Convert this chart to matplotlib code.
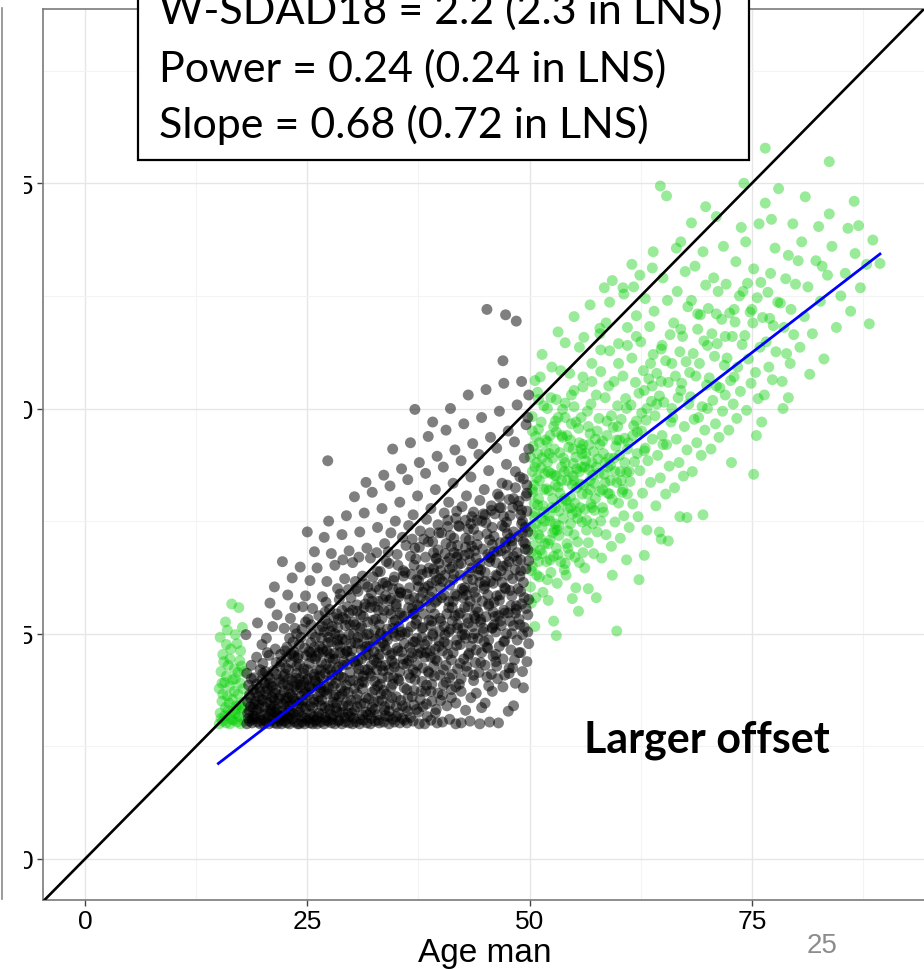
import numpy as np
import matplotlib
matplotlib.use('Agg')
from matplotlib import pyplot as plt
from matplotlib.patches import Rectangle
from matplotlib.lines import Line2D

plt.rcParams['font.family'] = ['Liberation Sans', 'DejaVu Sans']

# man age 18-50 (black), spread part of the cloud
black_pts = [
    (18.2, 15.0), (18.5, 15.3), (18.8, 15.1), (19.1, 15.6), (19.4, 15.2), (19.7, 15.0), (18.3, 16.2), (18.9, 16.8),
    (19.5, 17.1), (18.6, 17.9), (19.2, 18.4), (19.8, 16.0), (18.4, 19.3), (19.0, 20.1), (19.6, 19.0), (18.7, 21.5),
    (19.3, 22.4), (19.9, 23.8), (18.1, 24.9), (19.4, 26.2), (18.5, 18.2), (19.7, 21.0), (18.2, 20.6), (19.1, 15.8),
    (19.9, 17.7),
    (20.1, 15.0), (20.4, 15.2), (20.7, 15.0), (21.0, 15.4), (21.3, 15.1), (21.6, 15.0), (21.9, 15.3), (20.2, 16.1),
    (20.8, 16.6), (21.4, 16.3), (20.5, 17.4), (21.1, 17.9), (21.7, 17.2), (20.3, 18.6), (20.9, 19.2), (21.5, 18.8),
    (20.6, 20.3), (21.2, 20.9), (21.8, 19.9), (20.0, 21.7), (20.7, 22.6), (21.4, 23.3), (21.9, 21.4), (20.4, 24.5),
    (21.1, 25.8), (21.6, 27.1), (20.8, 28.4), (21.3, 30.2), (20.2, 19.5), (21.0, 18.0), (21.7, 16.0), (20.5, 22.9),
    (22.1, 15.0), (22.4, 15.3), (22.7, 15.1), (23.0, 15.0), (23.3, 15.5), (23.6, 15.2), (23.9, 15.0), (22.2, 16.4),
    (22.8, 16.9), (23.4, 16.2), (22.5, 17.8), (23.1, 18.3), (23.7, 17.5), (22.3, 19.4), (22.9, 20.0), (23.5, 19.1),
    (22.6, 21.2), (23.2, 21.8), (23.8, 20.6), (22.0, 22.7), (22.7, 23.5), (23.4, 24.1), (23.9, 22.3), (22.4, 25.6),
    (23.1, 26.7), (23.6, 27.9), (22.8, 29.3), (23.3, 31.2), (22.2, 33.0), (23.8, 25.0), (23.0, 17.0), (22.5, 20.5),
    (23.5, 23.0), (22.9, 18.9),
    (24.1, 15.0), (24.4, 15.2), (24.7, 15.0), (25.0, 15.4), (25.3, 15.1), (25.6, 15.0), (25.9, 15.3), (24.2, 16.3),
    (24.8, 16.7), (25.4, 16.1), (24.5, 17.6), (25.1, 18.2), (25.7, 17.4), (24.3, 19.3), (24.9, 19.9), (25.5, 19.0),
    (24.6, 21.1), (25.2, 21.7), (25.8, 20.5), (24.0, 22.6), (24.7, 23.4), (25.4, 24.0), (25.9, 22.2), (24.4, 25.5),
    (25.1, 26.6), (25.6, 27.8), (24.8, 29.2), (25.3, 30.9), (24.2, 32.4), (25.8, 34.1), (25.0, 36.3), (24.5, 28.0),
    (25.5, 25.0), (24.9, 18.5), (25.2, 23.0), (24.1, 20.0),
    (26.1, 15.0), (26.5, 15.2), (26.9, 15.0), (27.3, 15.3), (27.7, 15.1), (26.3, 16.2), (27.0, 16.8), (27.6, 16.0),
    (26.6, 17.7), (27.2, 18.3), (27.9, 17.4), (26.2, 19.2), (26.8, 19.9), (27.4, 19.0), (26.5, 21.0), (27.1, 21.6),
    (27.8, 20.4), (26.0, 22.5), (26.7, 23.3), (27.3, 24.0), (27.9, 22.1), (26.4, 25.4), (27.0, 26.5), (27.5, 27.7),
    (26.7, 29.1), (27.2, 30.8), (26.1, 32.3), (27.7, 33.9), (26.9, 35.7), (27.4, 37.5), (27.3, 44.2), (26.3, 27.0),
    (27.1, 28.5), (26.6, 24.5), (27.8, 25.8), (26.2, 18.0), (27.5, 22.8),
    (28.1, 15.0), (28.5, 15.3), (28.9, 15.0), (29.3, 15.2), (29.7, 15.1), (28.3, 16.4), (29.0, 17.0), (29.6, 16.2),
    (28.6, 18.0), (29.2, 18.6), (29.9, 17.6), (28.2, 19.5), (28.8, 20.2), (29.4, 19.3), (28.5, 21.3), (29.1, 21.9),
    (29.8, 20.7), (28.0, 22.8), (28.7, 23.6), (29.3, 24.3), (29.9, 22.4), (28.4, 25.7), (29.0, 26.8), (29.5, 28.0),
    (28.7, 29.4), (29.2, 31.1), (28.1, 32.6), (29.7, 34.2), (28.9, 36.0), (29.4, 38.1), (28.3, 27.2), (29.6, 29.9),
    (28.6, 24.8), (29.8, 26.0), (28.2, 18.2), (29.5, 23.0), (29.0, 33.2), (28.4, 30.0),
    (30.1, 15.0), (30.5, 15.2), (30.9, 15.0), (31.3, 15.4), (31.7, 15.1), (30.3, 16.5), (31.0, 17.2), (31.6, 16.3),
    (30.6, 18.3), (31.2, 18.9), (31.9, 17.8), (30.2, 19.8), (30.8, 20.5), (31.4, 19.6), (30.5, 21.6), (31.1, 22.2),
    (31.8, 21.0), (30.0, 23.1), (30.7, 23.9), (31.3, 24.6), (31.9, 22.7), (30.4, 26.0), (31.0, 27.1), (31.5, 28.3),
    (30.7, 29.7), (31.2, 31.4), (30.1, 32.9), (31.7, 34.5), (30.9, 36.3), (31.4, 38.4), (30.3, 40.2), (31.6, 41.8),
    (30.6, 27.5), (31.8, 30.2), (30.2, 25.0), (31.1, 25.8), (30.8, 33.5), (31.5, 23.5), (30.4, 30.8),
    (32.1, 15.0), (32.6, 15.3), (33.1, 15.1), (33.6, 15.2), (32.3, 16.8), (33.0, 17.5), (33.7, 16.5), (32.6, 18.8),
    (33.2, 19.4), (33.9, 18.3), (32.2, 20.3), (32.8, 21.0), (33.4, 20.1), (32.5, 22.1), (33.1, 22.7), (33.8, 21.5),
    (32.0, 23.6), (32.7, 24.4), (33.3, 25.1), (33.9, 23.2), (32.4, 26.5), (33.0, 27.6), (33.5, 28.8), (32.7, 30.2),
    (33.2, 31.9), (32.1, 33.4), (33.7, 35.0), (32.9, 36.8), (33.4, 38.9), (32.3, 40.7), (33.6, 42.6), (32.6, 28.0),
    (33.8, 30.7), (32.2, 29.5), (33.1, 26.0), (32.8, 34.0), (33.5, 24.0), (32.4, 31.3), (33.9, 33.0),
    (34.2, 15.0), (34.8, 15.2), (35.4, 15.1), (35.9, 15.4), (34.3, 17.2), (35.0, 18.0), (35.7, 17.0), (34.6, 19.4),
    (35.2, 20.0), (35.9, 19.0), (34.2, 21.0), (34.8, 21.7), (35.4, 20.8), (34.5, 22.8), (35.1, 23.4), (35.8, 22.2),
    (34.0, 24.3), (34.7, 25.1), (35.3, 25.8), (35.9, 23.9), (34.4, 27.2), (35.0, 28.3), (35.5, 29.5), (34.7, 30.9),
    (35.2, 32.6), (34.1, 34.1), (35.7, 35.7), (34.9, 37.5), (35.4, 39.6), (34.3, 41.4), (35.6, 43.3), (34.6, 45.5),
    (34.2, 28.7), (35.8, 31.4), (34.9, 26.5), (35.1, 33.8), (35.6, 27.0), (34.4, 36.2), (35.3, 30.0),
    (36.2, 15.1), (36.9, 15.3), (37.6, 15.0), (36.3, 17.9), (37.0, 18.7), (37.7, 17.7), (36.6, 20.1), (37.2, 20.7),
    (37.9, 19.7), (36.2, 21.7), (36.8, 22.4), (37.4, 21.5), (36.5, 23.5), (37.1, 24.1), (37.8, 22.9), (36.0, 25.0),
    (36.7, 25.8), (37.3, 26.5), (37.9, 24.6), (36.4, 27.9), (37.0, 29.0), (37.5, 30.2), (36.7, 31.6), (37.2, 33.3),
    (36.1, 34.8), (37.7, 36.4), (36.9, 38.2), (37.4, 40.3), (36.3, 42.1), (37.6, 44.0), (36.6, 46.2), (37.1, 49.9),
    (36.2, 29.4), (37.8, 32.1), (36.9, 27.2), (37.1, 34.5), (37.6, 28.0), (36.4, 37.0), (37.3, 31.0), (36.8, 35.5),
    (38.2, 15.0), (38.9, 15.4), (39.6, 15.1), (38.3, 18.6), (39.0, 19.4), (39.7, 18.4), (38.6, 20.8), (39.2, 21.4),
    (39.9, 20.4), (38.2, 22.4), (38.8, 23.1), (39.4, 22.2), (38.5, 24.2), (39.1, 24.8), (39.8, 23.6), (38.0, 25.7),
    (38.7, 26.5), (39.3, 27.2), (39.9, 25.3), (38.4, 28.6), (39.0, 29.7), (39.5, 30.9), (38.7, 32.3), (39.2, 34.0),
    (38.1, 35.5), (39.7, 37.1), (38.9, 38.9), (39.4, 41.0), (38.3, 42.8), (39.6, 44.7), (38.6, 46.9), (39.1, 48.5),
    (38.2, 30.1), (39.8, 32.8), (38.9, 27.9), (39.1, 35.2), (39.6, 28.7), (38.4, 37.7), (39.3, 31.7), (38.8, 36.2),
    (39.5, 33.3),
    (40.2, 15.2), (41.0, 15.5), (41.7, 15.0), (40.3, 19.3), (41.0, 20.1), (41.7, 19.1), (40.6, 21.5), (41.2, 22.1),
    (41.9, 21.1), (40.2, 23.1), (40.8, 23.8), (41.4, 22.9), (40.5, 24.9), (41.1, 25.5), (41.8, 24.3), (40.0, 26.4),
    (40.7, 27.2), (41.3, 27.9), (41.9, 26.0), (40.4, 29.3), (41.0, 30.4), (41.5, 31.6), (40.7, 33.0), (41.2, 34.7),
    (40.1, 36.2), (41.7, 37.8), (40.9, 39.6), (41.4, 41.7), (40.3, 43.5), (41.6, 45.4), (40.6, 47.6), (41.1, 50.0),
    (40.2, 30.8), (41.8, 33.5), (40.9, 28.6), (41.1, 35.9), (41.6, 29.4), (40.4, 38.4), (41.3, 32.4), (40.8, 36.9),
    (41.5, 34.0), (40.0, 32.0),
    (42.3, 15.1), (43.3, 15.3), (42.3, 20.0), (43.0, 20.8), (43.7, 19.8), (42.6, 22.2), (43.2, 22.8), (43.9, 21.8),
    (42.2, 23.8), (42.8, 24.5), (43.4, 23.6), (42.5, 25.6), (43.1, 26.2), (43.8, 25.0), (42.0, 27.1), (42.7, 27.9),
    (43.3, 28.6), (43.9, 26.7), (42.4, 30.0), (43.0, 31.1), (43.5, 32.3), (42.7, 33.7), (43.2, 35.4), (42.1, 36.9),
    (43.7, 38.5), (42.9, 40.3), (43.4, 42.4), (42.3, 44.2), (43.6, 46.1), (42.6, 48.3), (43.1, 51.5), (42.2, 31.5),
    (43.8, 34.2), (42.9, 29.3), (43.1, 36.6), (43.6, 30.1), (42.4, 39.1), (43.3, 33.1), (42.8, 37.6), (43.5, 34.7),
    (42.0, 32.7),
    (44.4, 15.0), (45.5, 15.2), (44.3, 20.7), (45.0, 21.5), (45.7, 20.5), (44.6, 22.9), (45.2, 23.5), (45.9, 22.5),
    (44.2, 24.5), (44.8, 25.2), (45.4, 24.3), (44.5, 26.3), (45.1, 26.9), (45.8, 25.7), (44.0, 27.8), (44.7, 28.6),
    (45.3, 29.3), (45.9, 27.4), (44.4, 30.7), (45.0, 31.8), (45.5, 33.0), (44.7, 34.4), (45.2, 36.1), (44.1, 37.6),
    (45.7, 39.2), (44.9, 41.0), (45.4, 43.1), (44.3, 44.9), (45.6, 46.8), (44.6, 49.0), (45.1, 52.1), (45.2, 61.0),
    (44.2, 32.2), (45.8, 34.9), (44.9, 30.0), (45.1, 37.3), (45.6, 30.8), (44.4, 39.8), (45.3, 33.8), (44.8, 38.3),
    (45.5, 35.4), (44.0, 33.4), (45.0, 17.3),
    (46.5, 15.1), (47.6, 16.4), (46.3, 21.4), (47.0, 22.2), (47.7, 21.2), (46.6, 23.6), (47.2, 24.2), (47.9, 23.2),
    (46.2, 25.2), (46.8, 25.9), (47.4, 25.0), (46.5, 27.0), (47.1, 27.6), (47.8, 26.4), (46.0, 28.5), (46.7, 29.3),
    (47.3, 30.0), (47.9, 28.1), (46.4, 31.4), (47.0, 32.5), (47.5, 33.7), (46.7, 35.1), (47.2, 36.8), (46.1, 38.3),
    (47.7, 39.9), (46.9, 41.7), (47.4, 43.8), (46.3, 45.6), (47.6, 47.5), (46.6, 49.7), (47.1, 52.8), (47.3, 60.4),
    (46.2, 32.9), (47.8, 35.6), (46.9, 30.7), (47.1, 38.0), (47.6, 31.5), (46.4, 40.5), (47.3, 34.5), (46.8, 39.0),
    (47.5, 36.1), (46.0, 34.1), (47.0, 55.3),
    (48.2, 17.0), (49.3, 19.0), (48.3, 22.1), (49.0, 22.9), (49.7, 21.9), (48.6, 24.3), (49.2, 24.9), (49.9, 23.9),
    (48.2, 25.9), (48.8, 26.6), (49.4, 25.7), (48.5, 27.7), (49.1, 28.3), (49.8, 27.1), (48.0, 29.2), (48.7, 30.0),
    (49.3, 30.7), (49.9, 28.8), (48.4, 32.1), (49.0, 33.2), (49.5, 34.4), (48.7, 35.8), (49.2, 37.5), (48.1, 39.0),
    (49.7, 40.6), (48.9, 42.4), (49.4, 44.5), (48.3, 46.3), (49.6, 48.2), (48.6, 50.4), (49.1, 53.0), (48.5, 59.7),
    (48.2, 33.6), (49.8, 36.3), (48.9, 31.4), (49.1, 38.7), (49.6, 32.2), (48.4, 41.2), (49.3, 35.2), (48.8, 39.7),
    (49.5, 36.8), (48.0, 34.8), (49.9, 45.5), (49.8, 49.0), (49.9, 51.5),
]

# man age 18-50 (black), the dense core next to the fitted line
black_core_pts = [
    (18.4, 15.6), (18.9, 15.9), (19.3, 16.5), (19.8, 15.4), (20.2, 16.9), (20.6, 15.8), (21.0, 16.2), (18.6, 16.9),
    (19.5, 18.0), (20.0, 17.6), (20.5, 18.9), (20.9, 17.0), (18.9, 18.8), (19.9, 19.9), (20.3, 20.8), (20.8, 20.0),
    (19.2, 17.5), (18.3, 17.4),
    (21.2, 15.7), (21.6, 16.6), (22.0, 15.5), (22.3, 17.2), (22.6, 15.9), (23.0, 16.4), (23.3, 18.0), (23.7, 16.0),
    (24.0, 17.3), (24.4, 15.8), (24.7, 18.4), (21.4, 18.4), (21.9, 19.6), (22.4, 18.6), (22.9, 21.0), (23.3, 19.8),
    (23.8, 21.4), (24.2, 19.0), (24.6, 20.6), (24.9, 22.6), (21.5, 20.5), (22.1, 21.9), (22.7, 22.4), (23.5, 22.5),
    (24.1, 23.8), (21.8, 17.8), (22.8, 17.9), (23.9, 19.4), (24.5, 16.9), (21.1, 19.1), (22.5, 16.1), (23.4, 17.1),
    (25.2, 15.6), (25.6, 16.8), (26.0, 15.4), (26.3, 17.5), (26.7, 16.1), (27.0, 15.7), (27.4, 17.0), (27.8, 15.5),
    (28.2, 16.8), (28.6, 15.4), (29.0, 16.3), (29.4, 17.4), (29.8, 15.8), (25.3, 18.9), (25.8, 20.2), (26.2, 19.5),
    (26.6, 21.8), (27.0, 20.6), (27.5, 22.3), (27.9, 19.2), (28.3, 21.0), (28.7, 22.9), (29.1, 20.1), (29.5, 21.6),
    (29.9, 23.9), (25.4, 22.9), (25.9, 24.6), (26.4, 23.6), (26.9, 25.2), (27.3, 26.1), (27.7, 24.1), (28.1, 25.0),
    (28.5, 26.6), (28.9, 24.4), (29.3, 25.9), (29.7, 27.3), (25.7, 17.7), (26.5, 18.5), (27.2, 18.8), (28.0, 18.0),
    (28.8, 19.0), (29.6, 18.5), (26.1, 21.0), (27.6, 21.0), (29.2, 22.8), (25.1, 20.0), (26.8, 23.0), (28.4, 23.8),
    (30.2, 15.6), (30.6, 16.9), (31.0, 15.5), (31.4, 17.3), (31.8, 16.0), (32.2, 15.6), (32.6, 16.6), (33.0, 15.4),
    (33.4, 17.6), (33.8, 15.9), (34.2, 16.4), (34.6, 15.5), (35.0, 16.9), (30.3, 18.9), (30.8, 21.1), (31.2, 19.7),
    (31.6, 22.6), (32.0, 20.6), (32.5, 23.0), (32.9, 19.2), (33.3, 21.4), (33.7, 23.7), (34.1, 20.2), (34.5, 22.0),
    (34.9, 24.7), (30.4, 24.0), (30.9, 25.6), (31.3, 26.9), (31.7, 24.9), (32.1, 27.9), (32.6, 25.4), (33.0, 28.6),
    (33.4, 26.7), (33.8, 29.2), (34.2, 27.6), (34.6, 30.0), (35.0, 28.0), (30.1, 27.6), (30.7, 22.0), (31.5, 21.0),
    (32.3, 18.5), (32.8, 21.8), (33.6, 18.7), (34.4, 19.0), (34.8, 21.3), (31.1, 23.2), (32.4, 24.2), (33.2, 24.9),
    (34.0, 25.5), (34.7, 26.3), (31.9, 28.9), (33.5, 30.6), (30.5, 30.0),
    (35.2, 16.2), (35.7, 15.6), (36.1, 16.8), (36.6, 15.7), (37.0, 17.1), (37.5, 16.3), (38.0, 16.9), (38.5, 15.8),
    (39.0, 17.5), (39.5, 16.6), (35.3, 19.8), (35.8, 21.6), (36.2, 18.8), (36.7, 22.9), (37.1, 19.9), (37.6, 23.4),
    (38.0, 21.2), (38.4, 19.3), (38.9, 22.4), (39.3, 20.3), (39.8, 24.2), (35.4, 24.8), (35.9, 26.9), (36.3, 25.2),
    (36.8, 27.8), (37.2, 26.1), (37.7, 29.0), (38.1, 27.2), (38.6, 30.3), (39.0, 26.4), (39.4, 28.5), (39.9, 31.1),
    (35.5, 29.6), (36.0, 31.8), (36.5, 30.1), (37.0, 32.6), (37.4, 28.2), (37.9, 31.6), (38.3, 33.5), (38.8, 29.1),
    (39.2, 32.2), (39.7, 34.3), (36.4, 20.5), (37.3, 24.5), (38.2, 23.8), (39.1, 25.0), (35.6, 23.0), (36.9, 21.0),
    (38.7, 20.6), (39.6, 22.0),
    (40.2, 18.2), (40.7, 17.0), (41.2, 18.8), (41.7, 17.3), (42.3, 18.6), (42.8, 16.5), (43.4, 17.9), (44.0, 18.4),
    (44.6, 16.8), (40.3, 21.0), (40.8, 22.7), (41.3, 20.5), (41.8, 23.7), (42.2, 21.7), (42.7, 24.9), (43.1, 22.6),
    (43.6, 25.8), (44.0, 23.2), (44.5, 26.6), (44.9, 24.1), (40.4, 25.8), (40.9, 27.9), (41.3, 26.4), (41.8, 29.2),
    (42.2, 27.3), (42.7, 30.1), (43.1, 28.0), (43.6, 31.0), (44.0, 29.0), (44.5, 32.1), (44.9, 30.3), (40.5, 31.5),
    (41.0, 33.4), (41.4, 31.0), (41.9, 34.8), (42.3, 32.8), (42.8, 35.6), (43.2, 33.9), (43.7, 36.6), (44.1, 34.9),
    (44.6, 37.5), (40.1, 29.0), (41.6, 27.0), (42.5, 29.0), (43.8, 27.0), (44.3, 31.5), (40.6, 35.0), (42.0, 37.0),
    (43.5, 38.0),
    (45.2, 20.2), (45.8, 18.6), (46.4, 20.0), (47.0, 19.1), (47.7, 20.6), (48.4, 19.5), (49.2, 20.8), (45.3, 23.4),
    (45.8, 25.6), (46.2, 22.7), (46.7, 26.4), (47.1, 24.1), (47.6, 27.3), (48.0, 25.0), (48.5, 28.1), (48.9, 26.0),
    (49.4, 29.0), (49.8, 25.2), (45.4, 28.3), (45.9, 30.6), (46.3, 29.2), (46.8, 32.0), (47.2, 30.1), (47.7, 33.0),
    (48.1, 31.1), (48.6, 34.0), (49.0, 32.0), (49.5, 35.0), (49.9, 33.1), (45.5, 33.5), (46.0, 35.8), (46.4, 34.1),
    (46.9, 37.0), (47.3, 35.2), (47.8, 38.1), (48.2, 36.3), (48.7, 39.2), (49.1, 37.2), (49.6, 40.3), (45.7, 38.7),
    (46.6, 40.2), (47.5, 41.5), (48.4, 43.0), (49.3, 42.2), (46.1, 26.9), (48.8, 22.9), (49.7, 38.6),
    (18.5, 16.4), (19.0, 17.2), (19.6, 16.7), (20.1, 15.5), (20.4, 18.2), (20.9, 16.4), (21.3, 17.6), (21.8, 15.8),
    (18.8, 15.5), (19.3, 19.4), (20.7, 19.5), (21.5, 21.8), (21.2, 16.9), (19.7, 18.6), (18.7, 20.0), (20.0, 20.6),
    (22.2, 15.9), (22.6, 17.5), (23.1, 16.0), (23.5, 17.8), (24.0, 16.3), (24.3, 18.1), (24.8, 15.6), (25.3, 17.0),
    (25.7, 15.8), (22.3, 20.3), (22.8, 19.3), (23.2, 22.8), (23.7, 20.1), (24.1, 21.6), (24.6, 19.6), (25.0, 21.0),
    (25.5, 22.4), (25.9, 19.8), (22.5, 23.1), (23.0, 24.5), (23.6, 25.6), (24.3, 24.6), (24.8, 26.3), (25.4, 26.0),
    (25.8, 23.5), (22.9, 15.6), (24.5, 17.4), (25.2, 19.2), (23.8, 18.8), (22.0, 18.2),
    (26.2, 15.8), (26.6, 17.0), (27.1, 15.4), (27.5, 16.6), (27.9, 15.9), (28.3, 17.3), (28.7, 16.2), (29.2, 15.7),
    (29.6, 17.0), (30.0, 16.2), (30.5, 17.7), (26.4, 20.3), (26.9, 18.6), (27.3, 21.1), (27.7, 19.8), (28.1, 22.2),
    (28.5, 20.4), (29.0, 21.5), (29.4, 23.1), (29.8, 19.8), (30.3, 21.9), (30.7, 24.6), (26.3, 22.9), (26.7, 25.8),
    (27.2, 23.1), (27.6, 25.3), (28.0, 26.8), (28.4, 24.3), (28.9, 27.6), (29.3, 26.6), (29.7, 24.9), (30.2, 26.3),
    (30.6, 28.2), (27.0, 27.4), (28.6, 28.8), (29.9, 29.0), (26.5, 19.0), (28.9, 18.3), (30.8, 19.4), (27.4, 24.6),
    (31.2, 16.0), (31.6, 17.9), (32.1, 16.3), (32.5, 17.4), (32.9, 16.0), (33.3, 18.3), (33.7, 16.9), (34.1, 15.8),
    (34.5, 17.9), (35.0, 15.8), (35.5, 17.6), (31.3, 20.3), (31.7, 23.6), (32.2, 21.5), (32.6, 19.7), (33.0, 22.3),
    (33.5, 20.9), (33.9, 24.7), (34.3, 22.6), (34.7, 20.1), (35.2, 23.1), (35.6, 25.2), (31.4, 27.9), (31.8, 26.3),
    (32.3, 28.6), (32.7, 26.6), (33.1, 29.9), (33.6, 27.6), (34.0, 30.3), (34.4, 28.9), (34.8, 31.3), (35.3, 29.1),
    (35.8, 32.0), (31.5, 30.5), (32.9, 31.9), (34.2, 32.8), (35.4, 27.3), (33.2, 23.5), (34.6, 25.6), (31.9, 25.0),
    (36.3, 16.4), (36.8, 18.0), (37.3, 16.6), (37.8, 18.6), (38.4, 17.2), (38.9, 18.6), (39.4, 16.2), (40.0, 17.6),
    (40.6, 19.6), (41.2, 17.9), (36.4, 22.0), (36.9, 24.1), (37.4, 22.7), (37.9, 25.6), (38.4, 22.9), (38.9, 25.9),
    (39.4, 23.3), (39.9, 26.7), (40.4, 24.1), (40.9, 25.2), (41.4, 28.6), (41.9, 25.6), (36.5, 28.8), (37.0, 27.2),
    (37.5, 30.9), (38.0, 29.6), (38.5, 31.8), (39.0, 30.6), (39.5, 33.4), (40.0, 30.1), (40.5, 33.9), (41.0, 32.2),
    (41.5, 35.6), (42.0, 33.8), (36.6, 33.6), (37.6, 34.6), (38.6, 35.2), (39.8, 36.2), (40.8, 37.6), (41.8, 38.6),
    (42.1, 19.4), (42.9, 21.4), (43.7, 20.4), (44.5, 21.8), (45.4, 19.2), (46.2, 21.9), (47.2, 20.4), (48.1, 21.2),
    (42.4, 24.9), (43.0, 26.7), (43.6, 24.5), (44.2, 27.4), (44.8, 25.6), (45.4, 28.1), (46.0, 26.0), (46.6, 28.7),
    (47.2, 27.3), (47.8, 29.8), (48.4, 27.3), (49.0, 29.7), (49.6, 27.8), (42.6, 29.8), (43.2, 31.8), (43.8, 29.6),
    (44.4, 32.8), (45.0, 30.8), (45.6, 33.4), (46.2, 31.5), (46.8, 34.2), (47.4, 32.6), (48.0, 35.3), (48.6, 33.1),
    (49.2, 36.2), (49.8, 34.3), (42.8, 34.6), (43.4, 37.2), (44.2, 35.9), (45.0, 38.2), (45.8, 36.8), (46.6, 39.0),
    (47.4, 37.4), (48.2, 40.0), (49.0, 38.2), (49.7, 41.5),
]

# man age < 18 (green, left block)
green_young_pts = [
    (15.1, 15.0), (15.5, 15.3), (15.9, 15.1), (16.3, 15.0), (16.7, 15.4), (17.1, 15.2), (17.5, 15.0), (17.9, 15.3),
    (15.2, 16.2), (15.8, 16.8), (16.4, 16.1), (17.0, 16.6), (17.6, 16.3), (15.4, 17.5), (16.0, 18.1), (16.6, 17.7),
    (17.2, 18.3), (17.8, 17.4), (15.1, 18.9), (15.7, 19.6), (16.3, 19.2), (16.9, 20.0), (17.5, 19.5), (15.3, 20.8),
    (16.1, 21.5), (16.8, 21.1), (17.4, 22.0), (15.5, 22.7), (16.4, 23.3), (17.1, 23.9), (15.2, 24.6), (16.0, 25.4),
    (16.9, 24.9), (17.7, 25.7), (15.8, 26.3), (17.3, 27.9), (16.5, 28.3), (17.9, 20.8), (17.0, 17.0), (15.6, 21.9),
    (15.3, 15.6), (15.7, 15.9), (16.1, 16.5), (16.5, 15.5), (16.9, 16.1), (17.3, 15.8), (17.7, 16.8), (15.5, 18.3),
    (16.2, 17.3), (16.8, 18.6), (17.4, 17.1), (17.8, 18.9), (15.9, 20.3), (16.6, 19.9), (17.2, 20.7), (15.4, 19.5),
    (17.6, 21.4), (16.3, 22.2), (15.9, 23.8), (17.5, 23.1),
]

# man age > 50 (green, right cloud)
green_old_pts = [
    (50.1, 30.2), (50.3, 32.5), (50.5, 34.8), (50.2, 36.9), (50.6, 38.4), (50.4, 40.7), (50.8, 42.3), (50.1, 44.6),
    (50.7, 46.9), (50.3, 49.1), (50.9, 51.8), (50.6, 25.8), (51.1, 31.3), (51.4, 33.9), (51.2, 35.6), (51.7, 37.5),
    (51.5, 39.2), (51.9, 41.1), (51.3, 43.4), (51.8, 45.2), (51.0, 47.7), (51.6, 50.3), (51.2, 53.5), (50.2, 28.4),
    (51.5, 29.6), (50.5, 41.5), (51.0, 36.0), (50.8, 33.7), (51.7, 42.8), (50.4, 45.8),
    (52.1, 28.7), (52.4, 31.8), (52.7, 33.6), (52.3, 35.4), (52.9, 37.2), (52.5, 39.0), (52.2, 40.9), (52.8, 42.6),
    (52.6, 44.5), (52.0, 46.3), (52.9, 48.6), (52.4, 51.2), (53.1, 30.6), (53.5, 33.0), (53.3, 35.9), (53.8, 37.8),
    (53.6, 39.7), (53.2, 41.3), (53.9, 43.0), (53.4, 45.1), (53.0, 47.4), (53.7, 49.9), (53.5, 54.2), (52.7, 26.4),
    (53.9, 32.1), (52.2, 38.1), (53.4, 40.6), (52.8, 36.5),
    (54.1, 31.5), (54.5, 33.8), (54.3, 36.4), (54.8, 38.3), (54.6, 40.2), (54.2, 42.0), (54.9, 43.9), (54.4, 45.7),
    (54.7, 48.3), (54.0, 50.6), (54.5, 53.9), (55.2, 30.1), (55.6, 32.9), (55.4, 35.2), (55.9, 37.4), (55.1, 39.5),
    (55.7, 41.6), (55.3, 43.3), (55.8, 45.5), (55.5, 47.8), (55.0, 50.2), (55.6, 56.8), (54.8, 28.9), (55.9, 40.5),
    (54.3, 38.9), (55.2, 44.6),
    (56.2, 32.3), (56.6, 35.1), (56.4, 37.6), (56.9, 39.4), (56.1, 41.5), (56.7, 43.2), (56.3, 45.0), (56.8, 47.2),
    (56.5, 49.7), (56.0, 52.4), (57.2, 33.9), (57.6, 36.3), (57.3, 38.7), (57.9, 40.8), (57.1, 42.6), (57.7, 44.4),
    (57.4, 46.6), (57.8, 48.9), (57.5, 51.5), (57.0, 55.0), (57.9, 58.3), (56.6, 30.0), (57.3, 41.7),
    (58.1, 33.4), (58.6, 36.0), (58.3, 38.5), (58.8, 40.6), (58.4, 42.7), (58.9, 44.5), (58.2, 46.4), (58.7, 48.6),
    (58.5, 51.2), (58.0, 54.1), (58.6, 59.5), (59.2, 34.7), (59.6, 37.4), (59.3, 39.9), (59.8, 41.8), (59.1, 43.7),
    (59.7, 45.8), (59.4, 47.9), (59.9, 50.3), (59.5, 53.0), (59.0, 56.4), (59.8, 25.3), (59.3, 31.5), (59.0, 61.8),
    (60.2, 35.6), (60.6, 38.1), (60.4, 40.7), (60.9, 42.9), (60.1, 44.8), (60.7, 46.7), (60.3, 48.8), (60.8, 51.1),
    (60.5, 53.6), (60.0, 57.2), (60.6, 62.7), (61.2, 36.8), (61.6, 39.4), (61.3, 41.9), (61.8, 44.1), (61.1, 46.2),
    (61.7, 48.1), (61.4, 50.4), (61.9, 52.9), (61.5, 55.6), (61.0, 59.0), (61.7, 63.5), (60.9, 33.2),
    (62.2, 38.0), (62.7, 40.6), (62.4, 43.1), (62.9, 45.3), (62.1, 47.4), (62.6, 49.5), (62.3, 51.7), (62.8, 54.2),
    (62.5, 57.4), (62.0, 60.3), (63.2, 36.5), (63.6, 41.8), (63.3, 44.2), (63.8, 46.6), (63.1, 48.7), (63.7, 50.8),
    (63.4, 53.3), (63.9, 56.0), (63.5, 59.1), (63.0, 62.2), (63.8, 65.6), (62.9, 33.7),
    (64.2, 39.2), (64.7, 42.3), (64.4, 44.8), (64.9, 47.0), (64.1, 49.2), (64.6, 51.4), (64.3, 53.9), (64.8, 56.6),
    (64.7, 74.7), (64.0, 60.8), (65.3, 40.5), (65.7, 43.6), (65.4, 46.0), (65.9, 48.5), (65.1, 50.7), (65.6, 52.9),
    (65.3, 55.3), (65.8, 58.2), (65.5, 62.0), (65.0, 64.5), (65.4, 73.6), (64.6, 36.3),
    (66.3, 41.2), (66.8, 44.0), (66.5, 46.6), (66.1, 49.0), (66.7, 51.2), (66.4, 53.6), (66.9, 56.3), (66.2, 59.5),
    (66.6, 63.0), (67.3, 42.5), (67.7, 45.4), (67.4, 48.0), (67.9, 50.5), (67.1, 52.8), (67.6, 55.2), (67.2, 58.0),
    (67.8, 61.3), (67.5, 65.2), (66.9, 38.0), (67.0, 68.5),
    (68.3, 43.0), (68.8, 46.2), (68.5, 48.8), (68.1, 51.3), (68.7, 53.6), (68.4, 56.1), (68.9, 58.8), (68.2, 62.0),
    (68.6, 65.8), (69.3, 44.8), (69.7, 47.6), (69.4, 50.2), (69.9, 52.6), (69.1, 55.0), (69.6, 57.5), (69.2, 60.4),
    (69.8, 63.7), (69.5, 38.2), (69.5, 67.4),
    (70.4, 45.5), (70.9, 48.3), (70.6, 50.9), (70.2, 53.4), (70.8, 55.8), (70.5, 58.3), (70.1, 61.1), (70.7, 64.5),
    (71.3, 46.8), (71.7, 49.7), (71.4, 52.3), (71.9, 54.8), (71.1, 57.2), (71.6, 59.9), (71.2, 63.0), (71.8, 68.0),
    (72.4, 47.6), (72.9, 50.5), (72.6, 53.1), (72.2, 55.6), (72.8, 58.0), (72.5, 60.6), (72.1, 63.8), (73.3, 48.9),
    (73.7, 51.9), (73.4, 54.6), (73.9, 57.1), (73.1, 59.6), (73.6, 62.5), (73.2, 66.3), (74.1, 75.0), (72.7, 44.0),
    (74.4, 49.8), (74.9, 52.8), (74.6, 55.5), (74.2, 58.1), (74.8, 60.7), (74.5, 63.9), (75.2, 42.7), (75.7, 51.1),
    (75.4, 54.0), (75.9, 56.8), (75.1, 59.5), (75.6, 62.3), (75.2, 65.5), (74.3, 68.5), (75.8, 70.5), (75.5, 47.0),
    (76.4, 51.5), (76.9, 54.6), (76.6, 57.4), (76.2, 60.1), (76.8, 62.9), (76.5, 78.9), (77.3, 53.2), (77.7, 56.3),
    (77.4, 59.2), (77.9, 61.8), (77.1, 65.0), (77.6, 67.8), (76.1, 48.5), (77.2, 71.0),
    (78.4, 53.0), (78.9, 56.1), (78.6, 59.0), (78.2, 61.7), (78.8, 64.4), (79.3, 55.0), (79.7, 58.2), (79.4, 61.0),
    (79.9, 63.8), (79.1, 67.0), (78.5, 50.0), (79.6, 70.5),
    (80.4, 56.8), (80.9, 60.2), (81.3, 63.5), (81.8, 58.3), (82.2, 66.4), (82.7, 61.9), (83.1, 55.5), (83.5, 64.8),
    (83.7, 71.6), (83.7, 77.4), (80.6, 68.5), (81.5, 53.8), (84.0, 68.0), (82.5, 70.2),
    (84.5, 59.0), (85.0, 62.5), (85.5, 65.0), (86.1, 60.8), (86.6, 67.2), (87.2, 63.4), (87.9, 66.0), (88.6, 68.7),
    (85.8, 70.0), (87.0, 70.3), (88.2, 59.4), (89.4, 66.1),
    (50.6, 53.1), (51.4, 56.0), (52.5, 54.6), (53.2, 58.5), (54.0, 57.3), (55.0, 60.2), (56.1, 57.9), (57.9, 58.9),
    (56.8, 61.5), (58.4, 63.4), (59.3, 64.2), (60.5, 63.4), (61.5, 66.0), (62.4, 64.8), (63.9, 67.4), (66.5, 67.8),
    (68.2, 70.6), (69.8, 72.4), (71.0, 71.3), (73.8, 70.1), (76.5, 72.8), (78.0, 74.4), (80.2, 66.4), (82.9, 65.8),
    (81.0, 73.5), (86.5, 73.0), (79.1, 51.2), (67.7, 37.9), (64.8, 35.5), (65.6, 35.3), (62.3, 31.0), (57.5, 29.0),
    (55.5, 27.5), (53.0, 24.8), (58.2, 41.0), (60.2, 43.0), (61.0, 45.5), (62.0, 48.6), (63.0, 45.6), (56.0, 46.0),
    (57.0, 44.0), (55.0, 42.0), (54.0, 44.0), (53.0, 42.5), (52.0, 44.0), (51.0, 40.0), (50.5, 38.0), (50.3, 43.0),
    (50.9, 45.0), (51.3, 48.5), (52.3, 47.0), (53.6, 47.0), (54.6, 46.5), (55.8, 49.0), (56.9, 50.5), (58.9, 52.5),
    (59.9, 48.0), (60.9, 50.0), (62.9, 52.0), (63.6, 55.0), (64.9, 57.0), (66.0, 55.0), (67.0, 58.8), (68.9, 60.5),
    (70.0, 57.0), (71.0, 60.5), (72.0, 58.0), (73.0, 61.0), (74.0, 63.0), (75.0, 61.0), (76.0, 64.0), (77.0, 60.0),
    (65.0, 46.0), (66.0, 50.0), (67.0, 52.0), (68.0, 54.0), (69.0, 49.0), (70.0, 50.0), (71.0, 52.5), (72.0, 51.5),
    (73.0, 53.5), (60.0, 55.0), (61.0, 57.0), (62.0, 58.0), (58.0, 56.5), (57.0, 53.0), (56.0, 53.5), (55.0, 52.0),
    (54.0, 49.0), (53.0, 51.0), (52.0, 50.0), (51.0, 51.0),
    (50.2, 34.0), (50.4, 36.0), (50.7, 37.2), (50.9, 39.3), (50.3, 41.0), (50.6, 43.5), (50.8, 31.5), (51.2, 34.3),
    (51.4, 36.8), (51.6, 38.5), (51.1, 42.0), (51.4, 44.5), (51.8, 46.5), (51.9, 33.0), (52.1, 35.0), (52.3, 37.5),
    (52.6, 40.0), (52.4, 42.8), (52.8, 45.5), (52.1, 43.0), (52.9, 39.0), (53.1, 36.5), (53.3, 38.6), (53.6, 42.0),
    (53.8, 44.5), (53.2, 33.8), (53.7, 46.8), (54.2, 35.0), (54.6, 37.2), (54.1, 39.8), (54.8, 41.5), (54.4, 43.0),
    (54.9, 45.5), (55.1, 33.5), (55.4, 37.8), (55.7, 39.0), (55.3, 41.2), (55.9, 43.5), (55.6, 46.2), (56.2, 38.8),
    (56.5, 40.5), (56.8, 42.0), (56.3, 44.2), (56.7, 46.0), (57.1, 37.2), (57.4, 40.0), (57.8, 42.8), (57.2, 45.2),
    (57.6, 47.5), (58.2, 39.0), (58.5, 41.8), (58.8, 43.5), (58.3, 45.0), (58.7, 47.0), (59.1, 42.0), (59.5, 44.5),
    (59.8, 46.5), (59.2, 49.2), (60.3, 42.0), (60.7, 44.0), (61.2, 43.0), (61.6, 47.0), (62.1, 45.0), (62.6, 47.5),
    (63.2, 50.0), (63.8, 52.5), (64.3, 50.5), (64.8, 53.0), (60.0, 39.5), (61.0, 40.5),
    (50.2, 32.0), (50.5, 39.5), (50.8, 44.0), (50.3, 47.5), (50.7, 29.0), (51.0, 33.0), (51.3, 37.8), (51.6, 41.0),
    (51.1, 46.2), (51.7, 35.0), (52.0, 31.0), (52.3, 33.2), (52.6, 36.2), (52.9, 41.5), (52.2, 45.0), (52.7, 48.0),
    (53.0, 34.5), (53.3, 37.0), (53.6, 43.5), (53.9, 40.0), (53.2, 49.0), (54.0, 32.8), (54.3, 34.5), (54.6, 39.0),
    (54.9, 42.5), (54.2, 47.0), (54.7, 51.5), (55.0, 36.0), (55.3, 38.5), (55.6, 43.0), (55.9, 45.0), (55.2, 48.5),
    (56.0, 34.0), (56.4, 36.5), (56.8, 41.0), (56.2, 43.5), (56.6, 48.0), (57.0, 39.0), (57.5, 43.5), (57.9, 46.0),
    (58.0, 37.5), (58.5, 44.0), (59.0, 40.5), (59.6, 43.0), (60.1, 46.5), (60.5, 41.0),
]

# fitted line (blue) end points
fit_x = [15.0, 89.4]
fit_y = [10.6, 67.15]

stats_lines = [
    'W-SDAD18 = 2.2 (2.3 in LNS)',
    'Power = 0.24 (0.24 in LNS)',
    'Slope = 0.68 (0.72 in LNS)',
]

W, H = 924, 970
fig = plt.figure(figsize=(W / 100, H / 100), dpi=100)
ax = fig.add_axes([43.2 / W, (H - 900.5) / H, 883 / W, 891 / H])

black = np.array(black_pts + black_core_pts)
g_young = np.array(green_young_pts)
g_old = np.array(green_old_pts)

green = '#00cd00'
ax.scatter(g_young[:, 0], g_young[:, 1], s=62, color=green, alpha=0.4, edgecolors='none', zorder=2)
ax.scatter(g_old[:, 0], g_old[:, 1], s=62, color=green, alpha=0.4, edgecolors='none', zorder=2)
ax.scatter(black[:, 0], black[:, 1], s=62, color='black', alpha=0.5, edgecolors='none', zorder=3)

ax.axline((0, 0), slope=1, color='black', lw=1.9, zorder=4)
ax.plot(fit_x, fit_y, color='#0000ff', lw=2.0, zorder=5)

ax.set_xlim(-4.7, 94.6)
ax.set_ylim(-4.5, 94.4)
ax.set_xticks([0, 25, 50, 75])
ax.set_yticks([0, 25, 50, 75])
ax.set_xticks([12.5, 37.5, 62.5, 87.5], minor=True)
ax.set_yticks([12.5, 37.5, 62.5, 87.5], minor=True)
ax.grid(which='major', color='#e6e6e6', lw=1.0, zorder=0)
ax.grid(which='minor', color='#f3f3f3', lw=0.8, zorder=0)
ax.set_axisbelow(True)
ax.tick_params(which='major', labelsize=19, length=4.3, width=1.0, color='#444444', pad=2.5)
ax.tick_params(which='minor', length=0)
for sp in ax.spines.values():
    sp.set_color('#7a7a7a')
    sp.set_linewidth(1.2)

ax.set_xlabel('Age man', fontsize=24)
ax.xaxis.set_label_coords(0.5, (900.5 - 962) / 891)
ax.xaxis.label.set_va('baseline')

ax.text(56.1, 11.9, 'Larger offset', fontsize=31, fontweight='bold', family=['Lato', 'DejaVu Sans'],
        va='baseline', ha='left', zorder=6)

# statistics box (top cut off in the slide)
fig.patches.append(Rectangle((138 / W, (H - 161) / H), 611 / W, 0.3, transform=fig.transFigure,
                             facecolor='white', edgecolor='black', lw=1.6, zorder=10))
for base, line in zip([24, 82, 138], stats_lines):
    fig.text(159 / W, (H - base) / H, line, fontsize=31, family=['Lato', 'DejaVu Sans'],
             va='baseline', ha='left', zorder=11)

# slide clutter at the left edge: white strip over the y labels and a grey rule
fig.patches.append(Rectangle((3 / W, 0), 21 / W, 1, transform=fig.transFigure,
                             facecolor='white', edgecolor='none', zorder=9))
fig.lines.append(Line2D([1.5 / W, 1.5 / W], [(H - 900) / H, (H - 9) / H], transform=fig.transFigure,
                        color='#8a8a8a', lw=1.2, zorder=9))

fig.text(822 / W, (H - 953) / H, '25', fontsize=20, color='#8c8c8c', ha='center', va='baseline')

plt.savefig('out.png', dpi=100)
